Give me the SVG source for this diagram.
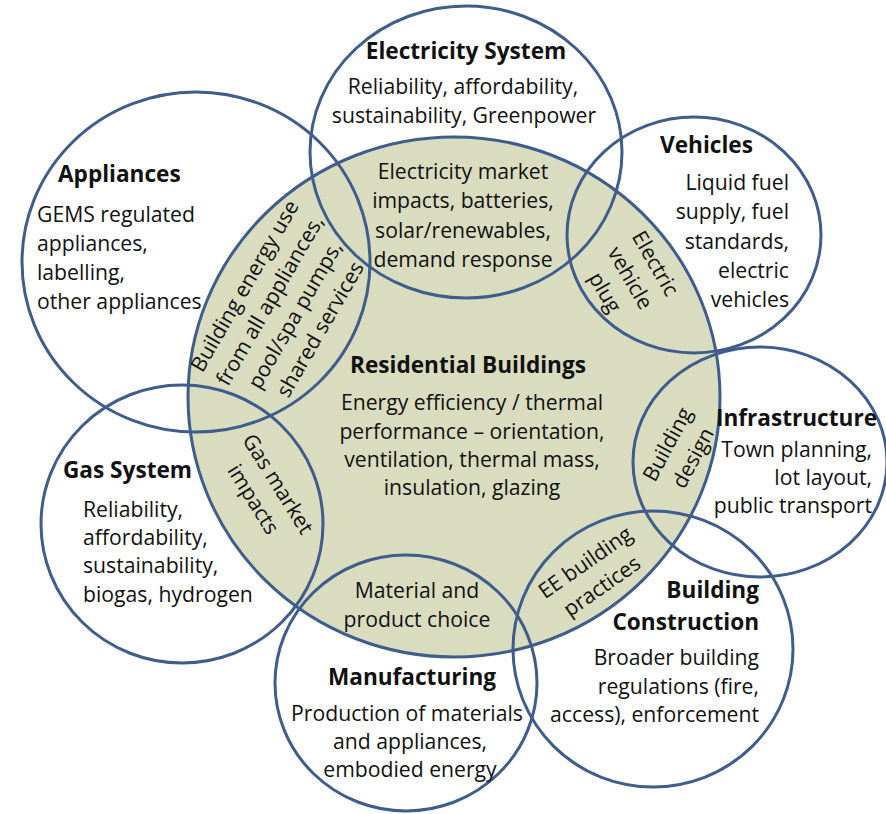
<svg xmlns="http://www.w3.org/2000/svg" width="886" height="814" viewBox="0 0 886 814">
  <style>
    .ring { fill: none; stroke: #3f5d8c; stroke-width: 3; }
    .core { fill: #d9dcbf; stroke: #3f5d8c; stroke-width: 3; }
    text { font-family: "Open Sans", Lato, "Liberation Sans", sans-serif; fill: #111; }
    .title { font-size: 22.6px; font-weight: bold; }
    .body { font-size: 21.2px; }
    .mid { text-anchor: middle; }
    .end { text-anchor: end; }
  </style>
  <rect width="886" height="814" fill="#fff"/>

  <!-- central sphere -->
  <g id="residential-buildings">
    <ellipse class="core" cx="454" cy="397" rx="266" ry="260"/>
    <text class="title mid" x="468" y="373">Residential Buildings</text>
    <text class="body mid" x="472" y="410">Energy efficiency / thermal</text>
    <text class="body mid" x="472" y="439">performance – orientation,</text>
    <text class="body mid" x="472" y="467">ventilation, thermal mass,</text>
    <text class="body mid" x="472" y="495">insulation, glazing</text>
  </g>

  <g id="electricity-system">
    <ellipse class="ring" cx="466" cy="152" rx="156" ry="146"/>
    <text class="title mid" x="466" y="59">Electricity System</text>
    <text class="body mid" x="463" y="94">Reliability, affordability,</text>
    <text class="body mid" x="464" y="123">sustainability, Greenpower</text>
    <text class="body mid" x="463" y="179">Electricity market</text>
    <text class="body mid" x="463" y="208">impacts, batteries,</text>
    <text class="body mid" x="463" y="238">solar/renewables,</text>
    <text class="body mid" x="463" y="267">demand response</text>
  </g>

  <g id="appliances">
    <ellipse class="ring" cx="196" cy="262" rx="174" ry="170"/>
    <text class="title" x="58" y="182">Appliances</text>
    <text class="body" x="37" y="222">GEMS regulated</text>
    <text class="body" x="37" y="251">appliances,</text>
    <text class="body" x="37" y="280">labelling,</text>
    <text class="body" x="37" y="309">other appliances</text>
    <!-- overlap with the central sphere -->
    <g transform="translate(283,308) rotate(-60)">
      <text class="body mid" x="0" y="-37">Building energy use</text>
      <text class="body mid" x="0" y="-8">from all appliances,</text>
      <text class="body mid" x="0" y="21">pool/spa pumps,</text>
      <text class="body mid" x="0" y="50">shared services</text>
    </g>
  </g>

  <g id="vehicles">
    <ellipse class="ring" cx="694" cy="235" rx="127" ry="118"/>
    <text class="title" x="660" y="153">Vehicles</text>
    <text class="body end" x="789" y="190">Liquid fuel</text>
    <text class="body end" x="789" y="219">supply, fuel</text>
    <text class="body end" x="789" y="249">standards,</text>
    <text class="body end" x="789" y="278">electric</text>
    <text class="body end" x="789" y="307">vehicles</text>
    <g transform="translate(630,278) rotate(60)">
      <text class="body mid" x="0" y="-22">Electric</text>
      <text class="body mid" x="0" y="7">vehicle</text>
      <text class="body mid" x="0" y="36">plug</text>
    </g>
  </g>

  <g id="infrastructure">
    <ellipse class="ring" cx="760" cy="462" rx="127" ry="115"/>
    <text class="title end" x="877" y="426">Infrastructure</text>
    <text class="body end" x="872" y="457">Town planning,</text>
    <text class="body end" x="872" y="485">lot layout,</text>
    <text class="body end" x="872" y="513">public transport</text>
    <g transform="translate(680,451) rotate(-62)">
      <text class="body mid" x="0" y="-7">Building</text>
      <text class="body mid" x="0" y="22">design</text>
    </g>
  </g>

  <g id="building-construction">
    <ellipse class="ring" cx="653" cy="649" rx="140" ry="138"/>
    <text class="title end" x="759" y="598">Building</text>
    <text class="title end" x="759" y="630">Construction</text>
    <text class="body end" x="759" y="665">Broader building</text>
    <text class="body end" x="759" y="694">regulations (fire,</text>
    <text class="body end" x="759" y="722">access), enforcement</text>
    <g transform="translate(594,575) rotate(-35)">
      <text class="body mid" x="0" y="-8">EE building</text>
      <text class="body mid" x="0" y="21">practices</text>
    </g>
  </g>

  <g id="manufacturing">
    <ellipse class="ring" cx="406" cy="683" rx="131" ry="128"/>
    <text class="title mid" x="412" y="685">Manufacturing</text>
    <text class="body mid" x="407" y="721">Production of materials</text>
    <text class="body mid" x="410" y="749">and appliances,</text>
    <text class="body mid" x="410" y="777">embodied energy</text>
    <text class="body mid" x="417" y="598">Material and</text>
    <text class="body mid" x="417" y="627">product choice</text>
  </g>

  <g id="gas-system">
    <ellipse class="ring" cx="182" cy="524" rx="141" ry="139"/>
    <text class="title" x="63" y="478">Gas System</text>
    <text class="body" x="83" y="517">Reliability,</text>
    <text class="body" x="83" y="545">affordability,</text>
    <text class="body" x="83" y="573">sustainability,</text>
    <text class="body" x="83" y="602">biogas, hydrogen</text>
    <g transform="translate(265,492) rotate(58)">
      <text class="body mid" x="0" y="-8">Gas market</text>
      <text class="body mid" x="0" y="21">impacts</text>
    </g>
  </g>
</svg>
